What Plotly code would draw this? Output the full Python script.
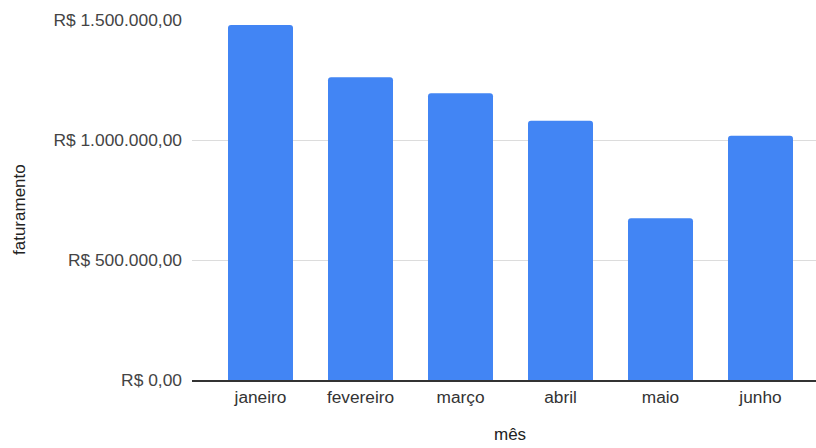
import plotly.graph_objects as go

meses = ["janeiro", "fevereiro", "março", "abril", "maio", "junho"]
faturamento = [1479000, 1261000, 1195000, 1080000, 674000, 1018000]
tick_vals = [0, 500000, 1000000, 1500000]
tick_text = ["R$ 0,00", "R$ 500.000,00", "R$ 1.000.000,00", "R$ 1.500.000,00"]
x_title = "mês"
y_title = "faturamento"

FONT = "Arial, Liberation Sans, sans-serif"

fig = go.Figure(
    go.Bar(
        x=meses,
        y=faturamento,
        marker=dict(color="#4285F4", cornerradius=3, line=dict(width=0)),
        width=0.65,
    )
)

fig.update_layout(
    width=816,
    height=448,
    margin=dict(l=192, r=0, t=20, b=68),
    plot_bgcolor="white",
    paper_bgcolor="white",
    showlegend=False,
    font=dict(family=FONT, size=17, color="#444444"),
    xaxis=dict(
        range=[-0.685, 5.555],
        showgrid=False,
        showline=True,
        linecolor="#333333",
        linewidth=1.5,
        ticks="",
        tickfont=dict(size=17.3, color="#333333"),
        automargin=False,
    ),
    yaxis=dict(
        range=[0, 1500000],
        tickvals=tick_vals,
        ticktext=tick_text,
        showgrid=True,
        gridcolor="#dcdcdc",
        gridwidth=1,
        zeroline=False,
        ticks="",
        ticklabelstandoff=9,
        tickfont=dict(size=17.4, color="#444444"),
        automargin=False,
    ),
    annotations=[
        dict(
            text=y_title, xref="paper", yref="paper",
            x=(19 - 192) / 624, y=(380 - 210) / 360,
            xanchor="center", yanchor="middle", textangle=-90, showarrow=False,
            font=dict(size=17, color="#222222"),
        ),
        dict(
            text=x_title, xref="paper", yref="paper",
            x=(509.5 - 192) / 624, y=(380 - 446) / 360,
            xanchor="center", yanchor="bottom", showarrow=False,
            font=dict(size=17, color="#222222"),
        ),
    ],
)

fig.write_html("out.html")
